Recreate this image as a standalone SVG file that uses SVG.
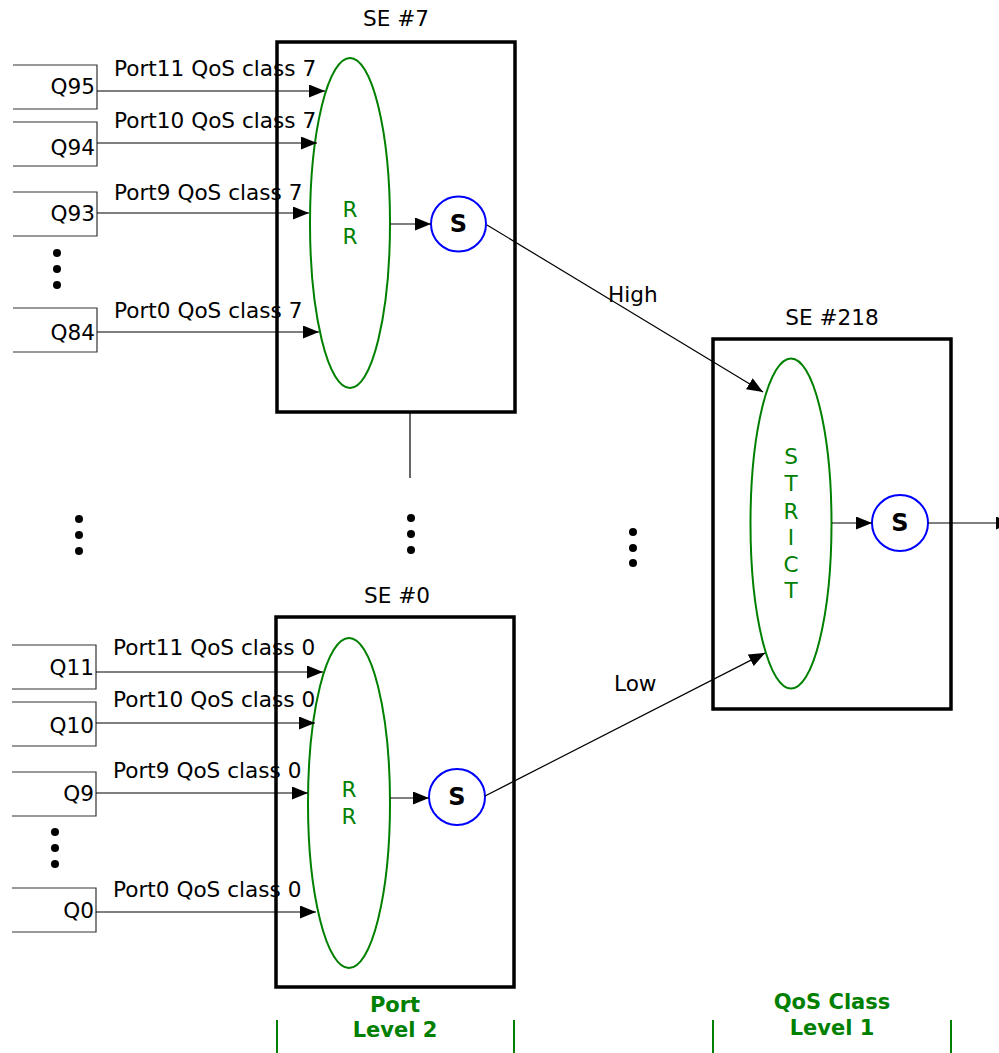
<svg xmlns="http://www.w3.org/2000/svg" width="999" height="1053" viewBox="0 0 999 1053">
<defs>
<marker id="ah" markerUnits="userSpaceOnUse" markerWidth="17" markerHeight="13" refX="16" refY="6.5" orient="auto">
<path d="M0,0 L16,6.5 L0,13 Z" fill="#000"/>
</marker>
<style>
text{font-family:"DejaVu Sans","Verdana",sans-serif;font-size:21.6px;fill:#000}
.q{fill:none;stroke:#333;stroke-width:1.2}
.qt{text-anchor:end}
.se{fill:none;stroke:#000;stroke-width:3.5}
.el{fill:none;stroke:#008000;stroke-width:2}
.gt{fill:#008000;text-anchor:middle}
.sc{fill:#fff;stroke:#0000ff;stroke-width:2}
.st{font-weight:bold;text-anchor:middle;font-size:24px}
.ttl{text-anchor:middle}
.ar{stroke:#000;stroke-width:1.2;fill:none;marker-end:url(#ah)}
.ln{stroke:#000;stroke-width:1.2;fill:none}
.lvl{fill:#008000;font-weight:bold;text-anchor:middle;font-size:21px}
.bar{stroke:#008000;stroke-width:2}
.dot{fill:#000}
</style>
</defs>

<!-- SE #7 -->
<g id="se7">
<text class="ttl" x="396" y="26">SE #7</text>
<rect class="se" x="277" y="42" width="238" height="370"/>
<ellipse class="el" cx="350" cy="223" rx="40" ry="165"/>
<text class="gt" x="350" y="217">R</text>
<text class="gt" x="350" y="244">R</text>
</g>
<g id="se7-s">
<circle class="sc" cx="458.5" cy="224" r="27.5"/>
<text class="st" x="458.5" y="232">S</text>
</g>

<!-- SE #0 -->
<g id="se0">
<text class="ttl" x="397" y="603">SE #0</text>
<rect class="se" x="276" y="617" width="238" height="370"/>
<ellipse class="el" cx="349" cy="803" rx="41" ry="165"/>
<text class="gt" x="349" y="797">R</text>
<text class="gt" x="349" y="824">R</text>
</g>
<g id="se0-s">
<circle class="sc" cx="457" cy="797" r="28"/>
<text class="st" x="457" y="805">S</text>
</g>

<!-- SE #218 -->
<g id="se218">
<text class="ttl" x="832" y="325">SE #218</text>
<rect class="se" x="713" y="339" width="238" height="370"/>
<ellipse class="el" cx="791" cy="523.5" rx="40.5" ry="165"/>
<text class="gt" x="791" y="464">S</text>
<text class="gt" x="791" y="491">T</text>
<text class="gt" x="791" y="519">R</text>
<text class="gt" x="791" y="545">I</text>
<text class="gt" x="791" y="572">C</text>
<text class="gt" x="791" y="598">T</text>
</g>
<g id="se218-s">
<circle class="sc" cx="900" cy="523" r="28"/>
<text class="st" x="900" y="531">S</text>
</g>

<!-- Queues top -->
<g id="q95"><path class="q" d="M13,65 H97 V109 H13"/><text class="qt" x="95" y="94">Q95</text></g>
<g id="q94"><path class="q" d="M13,122 H97 V166 H13"/><text class="qt" x="95" y="155">Q94</text></g>
<g id="q93"><path class="q" d="M13,192 H97 V236 H13"/><text class="qt" x="95" y="221">Q93</text></g>
<g id="q84"><path class="q" d="M13,308 H97 V352 H13"/><text class="qt" x="95" y="340">Q84</text></g>

<!-- Queues bottom -->
<g id="q11"><path class="q" d="M12,645 H96 V689 H12"/><text class="qt" x="94" y="675">Q11</text></g>
<g id="q10"><path class="q" d="M12,702 H96 V746 H12"/><text class="qt" x="94" y="733">Q10</text></g>
<g id="q9"><path class="q" d="M12,772 H96 V816 H12"/><text class="qt" x="94" y="801">Q9</text></g>
<g id="q0"><path class="q" d="M12,888 H96 V932 H12"/><text class="qt" x="94" y="918">Q0</text></g>

<!-- Connectors -->
<g id="connectors">
<path class="ar" d="M97,91 H325"/>
<path class="ar" d="M97,143 H317"/>
<path class="ar" d="M97,213 H309"/>
<path class="ar" d="M97,332 H319"/>
<path class="ar" d="M390,224 H431"/>
<path class="ar" d="M96,672 H323"/>
<path class="ar" d="M96,723 H315"/>
<path class="ar" d="M96,793 H308"/>
<path class="ar" d="M96,912 H316"/>
<path class="ar" d="M390,798 H429"/>
<path class="ar" d="M487,225 L763,392"/>
<path class="ar" d="M485,796 L765,653"/>
<path class="ar" d="M832,523 H872"/>
<path class="ar" d="M928,523 H1012"/>
<path class="ln" d="M410,412 V478"/>
</g>

<!-- Connector labels -->
<g id="labels">
<text x="114" y="76">Port11 QoS class 7</text>
<text x="114" y="128">Port10 QoS class 7</text>
<text x="114" y="200">Port9 QoS class 7</text>
<text x="114" y="318">Port0 QoS class 7</text>
<text x="113" y="655">Port11 QoS class 0</text>
<text x="113" y="707">Port10 QoS class 0</text>
<text x="113" y="778">Port9 QoS class 0</text>
<text x="113" y="897">Port0 QoS class 0</text>
<text x="608" y="302">High</text>
<text x="614" y="691">Low</text>
</g>

<!-- Ellipsis dots -->
<g id="dots">
<circle class="dot" cx="57" cy="253" r="4"/><circle class="dot" cx="57" cy="269" r="4"/><circle class="dot" cx="57" cy="285" r="4"/>
<circle class="dot" cx="55" cy="832" r="4"/><circle class="dot" cx="55" cy="848" r="4"/><circle class="dot" cx="55" cy="864" r="4"/>
<circle class="dot" cx="79" cy="519" r="4"/><circle class="dot" cx="79" cy="535" r="4"/><circle class="dot" cx="79" cy="551" r="4"/>
<circle class="dot" cx="411" cy="518" r="4"/><circle class="dot" cx="411" cy="534" r="4"/><circle class="dot" cx="411" cy="550" r="4"/>
<circle class="dot" cx="633" cy="532" r="4"/><circle class="dot" cx="633" cy="548" r="4"/><circle class="dot" cx="633" cy="563" r="4"/>
</g>

<!-- Level labels -->
<g id="levels">
<text class="lvl" x="395" y="1012">Port</text>
<text class="lvl" x="395" y="1037">Level 2</text>
<text class="lvl" x="832" y="1009">QoS Class</text>
<text class="lvl" x="832" y="1035">Level 1</text>
<line class="bar" x1="277" y1="1020" x2="277" y2="1053"/>
<line class="bar" x1="514" y1="1020" x2="514" y2="1053"/>
<line class="bar" x1="713" y1="1020" x2="713" y2="1053"/>
<line class="bar" x1="951" y1="1020" x2="951" y2="1053"/>
</g>
</svg>
